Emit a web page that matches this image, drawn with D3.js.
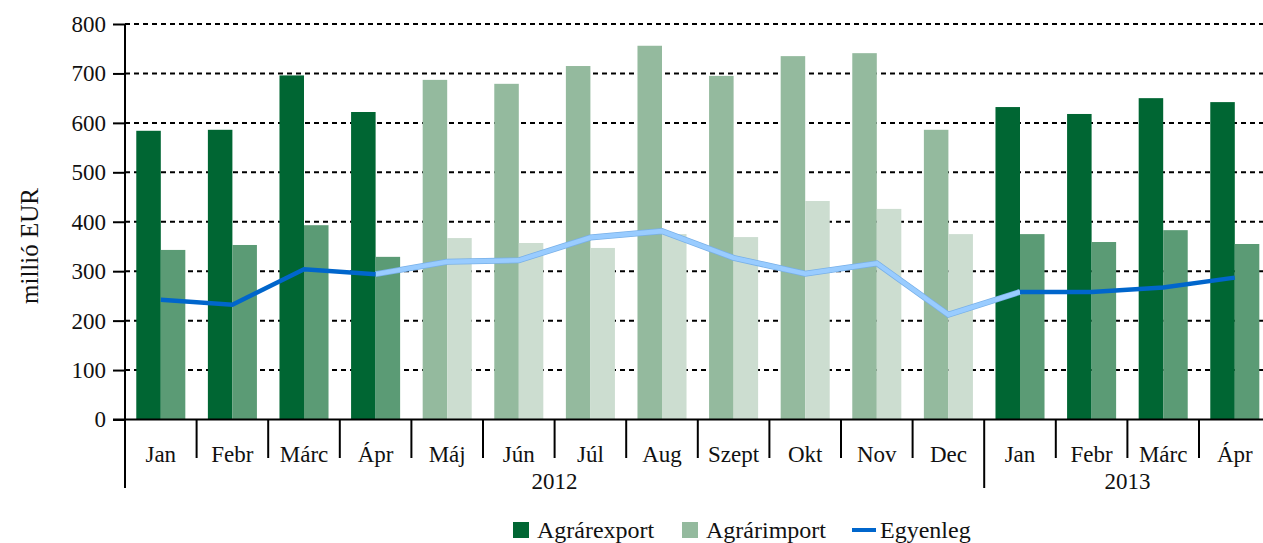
<!doctype html>
<html lang="hu">
<head>
	<meta charset="UTF-8">
	<title>agrárkereskedelem | d3</title>
	<style>
		body {
			margin: 0;
			background: #fff;
		}
		svg text {
			font-family: "Liberation Serif", "DejaVu Serif", serif;
			fill: #111;
		}
		.tick-label {
			font-size: 23px;
		}
		.legend-label {
			font-size: 24px;
		}
	</style>
</head>
<body>
	<div id="chart"></div>

	<script src="https://cdn.jsdelivr.net/npm/d3@7/dist/d3.min.js"></script>
	<script>
		// month labels, year groups
		var months = ['Jan', 'Febr', 'Márc', 'Ápr', 'Máj', 'Jún', 'Júl', 'Aug', 'Szept', 'Okt', 'Nov', 'Dec', 'Jan', 'Febr', 'Márc', 'Ápr'];
		var years = [
			{ label: '2012', from: 0, to: 11 },
			{ label: '2013', from: 12, to: 15 }
		];
		// dark = final data, light = preliminary (Máj-Dec 2012)
		var shade = ['d', 'd', 'd', 'd', 'l', 'l', 'l', 'l', 'l', 'l', 'l', 'l', 'd', 'd', 'd', 'd'];

		// millió EUR
		var agrarexport = [584, 586, 696, 622, 687, 679, 715, 756, 695, 735, 741, 586, 632, 618, 650, 642];
		var agrarimport = [343, 353, 393, 329, 367, 357, 347, 375, 369, 442, 426, 375, 375, 359, 383, 355];
		var egyenleg    = [242, 232, 304, 294, 319, 322, 368, 381, 327, 295, 316, 212, 258, 258, 267, 287];

		var yTicks = [0, 100, 200, 300, 400, 500, 600, 700, 800];

		var w = 1263,
			h = 543,
			plotLeft = 125,
			plotRight = 1270.6,
			plotTop = 24,
			plotBottom = 419.5;

		var serif = '"Liberation Serif", "DejaVu Serif", serif';

		var colors = {
			exportd: '#006633',
			importd: '#5b9b75',
			exportl: '#94ba9e',
			importl: '#ccddd0',
			lined: '#0066cc',
			linel: '#99ccff',
			linelEdge: '#78b0e8'
		};

		var svg = d3.select('#chart')
			.append('svg')
			.attr('width', w)
			.attr('height', h);

		var xScale, inner, yScale;

		/**
		* initialize scales
		*/
		var initScales = function() {
			xScale = d3.scaleBand()
				.domain(d3.range(months.length))
				.range([plotLeft, plotRight])
				.padding(0);

			inner = d3.scaleBand()
				.domain(['export', 'import'])
				.range([0, xScale.bandwidth()])
				.paddingInner(0)
				.paddingOuter(0.46);

			yScale = d3.scaleLinear()
				.domain([0, 800])
				.range([plotBottom, plotTop]);
		};

		/**
		* gridlines and y axis
		*/
		var drawYAxis = function() {
			svg.append('g')
				.selectAll('line')
				.data(yTicks.filter(function(d) { return d > 0; }))
				.enter()
				.append('line')
				.attr('x1', plotLeft)
				.attr('x2', w)
				.attr('y1', function(d) { return yScale(d); })
				.attr('y2', function(d) { return yScale(d); })
				.attr('stroke', '#000')
				.attr('stroke-width', 2)
				.attr('stroke-dasharray', '5,4');

			var yAxis = svg.append('g')
				.attr('transform', 'translate(' + plotLeft + ',0)')
				.call(d3.axisLeft(yScale).tickValues(yTicks).tickSize(12).tickPadding(7));

			yAxis.attr('font-family', serif).attr('font-size', 23);
			yAxis.select('.domain')
				.attr('d', 'M0,' + plotTop + 'V' + plotBottom)
				.attr('stroke', '#000')
				.attr('stroke-width', 2);
			yAxis.selectAll('.tick line')
				.attr('stroke', '#000')
				.attr('stroke-width', 2);
			yAxis.selectAll('.tick text')
				.style('font-family', serif)
				.style('font-size', '23px');

			svg.append('text')
				.attr('transform', 'translate(38,' + 246 + ') rotate(-90)')
				.attr('text-anchor', 'middle')
				.style('font-size', '25px')
				.text('millió EUR');
		};

		/**
		* bars
		*/
		var drawBars = function() {
			var g = svg.append('g');

			g.selectAll('rect.exp')
				.data(agrarexport)
				.enter()
				.append('rect')
				.attr('class', 'exp')
				.attr('x', function(d, i) { return xScale(i) + inner('export'); })
				.attr('width', inner.bandwidth())
				.attr('y', function(d) { return yScale(d); })
				.attr('height', function(d) { return yScale(0) - yScale(d); })
				.attr('fill', function(d, i) { return colors['export' + shade[i]]; });

			g.selectAll('rect.imp')
				.data(agrarimport)
				.enter()
				.append('rect')
				.attr('class', 'imp')
				.attr('x', function(d, i) { return xScale(i) + inner('import'); })
				.attr('width', inner.bandwidth())
				.attr('y', function(d) { return yScale(d); })
				.attr('height', function(d) { return yScale(0) - yScale(d); })
				.attr('fill', function(d, i) { return colors['import' + shade[i]]; });
		};

		/**
		* balance line, split by shade
		*/
		var drawLine = function() {
			var line = d3.line()
				.x(function(d) { return xScale(d.i) + xScale.bandwidth() / 2; })
				.y(function(d) { return yScale(d.v); });

			var pts = egyenleg.map(function(v, i) { return { i: i, v: v }; });

			// light part: from last dark 2012 point to first dark 2013 point
			var light = pts.slice(3, 13);
			svg.append('path')
				.attr('d', line(light))
				.attr('fill', 'none')
				.attr('stroke', colors.linelEdge)
				.attr('stroke-width', 6)
				.attr('stroke-linejoin', 'miter');
			svg.append('path')
				.attr('d', line(light))
				.attr('fill', 'none')
				.attr('stroke', colors.linel)
				.attr('stroke-width', 4.5)
				.attr('stroke-linejoin', 'miter');

			[pts.slice(0, 4), pts.slice(12, 16)].forEach(function(seg) {
				svg.append('path')
					.attr('d', line(seg))
					.attr('fill', 'none')
					.attr('stroke', colors.lined)
					.attr('stroke-width', 4.5)
					.attr('stroke-linejoin', 'miter');
			});
		};

		/**
		* x axis with two level labels
		*/
		var drawXAxis = function() {
			var g = svg.append('g');

			g.append('line')
				.attr('x1', plotLeft - 12)
				.attr('x2', w)
				.attr('y1', plotBottom)
				.attr('y2', plotBottom)
				.attr('stroke', '#000')
				.attr('stroke-width', 2);

			// boundaries between months
			var bounds = d3.range(months.length + 1);
			g.selectAll('line.tk')
				.data(bounds)
				.enter()
				.append('line')
				.attr('class', 'tk')
				.attr('x1', function(d) { return plotLeft + d * xScale.step(); })
				.attr('x2', function(d) { return plotLeft + d * xScale.step(); })
				.attr('y1', plotBottom)
				.attr('y2', function(d) { return (d === 0 || d === 12) ? 488 : 458; })
				.attr('stroke', '#000')
				.attr('stroke-width', 2);

			g.selectAll('text.month')
				.data(months)
				.enter()
				.append('text')
				.attr('class', 'tick-label')
				.attr('x', function(d, i) { return xScale(i) + xScale.bandwidth() / 2; })
				.attr('y', 462)
				.attr('text-anchor', 'middle')
				.text(function(d) { return d; });

			g.selectAll('text.year')
				.data(years)
				.enter()
				.append('text')
				.attr('class', 'tick-label')
				.attr('x', function(d) { return (xScale(d.from) + xScale(d.to) + xScale.bandwidth()) / 2; })
				.attr('y', 489)
				.attr('text-anchor', 'middle')
				.text(function(d) { return d.label; });
		};

		/**
		* legend
		*/
		var drawLegend = function() {
			var items = [
				{ label: 'Agrárexport', type: 'rect', color: colors.exportd, x: 513 },
				{ label: 'Agrárimport', type: 'rect', color: colors.exportl, x: 682 },
				{ label: 'Egyenleg', type: 'line', color: colors.lined, x: 852 }
			];
			var lg = svg.append('g');
			items.forEach(function(it) {
				if (it.type === 'rect') {
					lg.append('rect')
						.attr('x', it.x)
						.attr('y', 522)
						.attr('width', 16)
						.attr('height', 16)
						.attr('fill', it.color);
				} else {
					lg.append('line')
						.attr('x1', it.x)
						.attr('x2', it.x + 24)
						.attr('y1', 530)
						.attr('y2', 530)
						.attr('stroke', it.color)
						.attr('stroke-width', 4);
				}
				lg.append('text')
					.attr('class', 'legend-label')
					.attr('x', it.x + (it.type === 'rect' ? 24 : 28))
					.attr('y', 538)
					.text(it.label);
			});
		};

		initScales();
		drawYAxis();
		drawBars();
		drawLine();
		drawXAxis();
		drawLegend();
	</script>
</body>
</html>
